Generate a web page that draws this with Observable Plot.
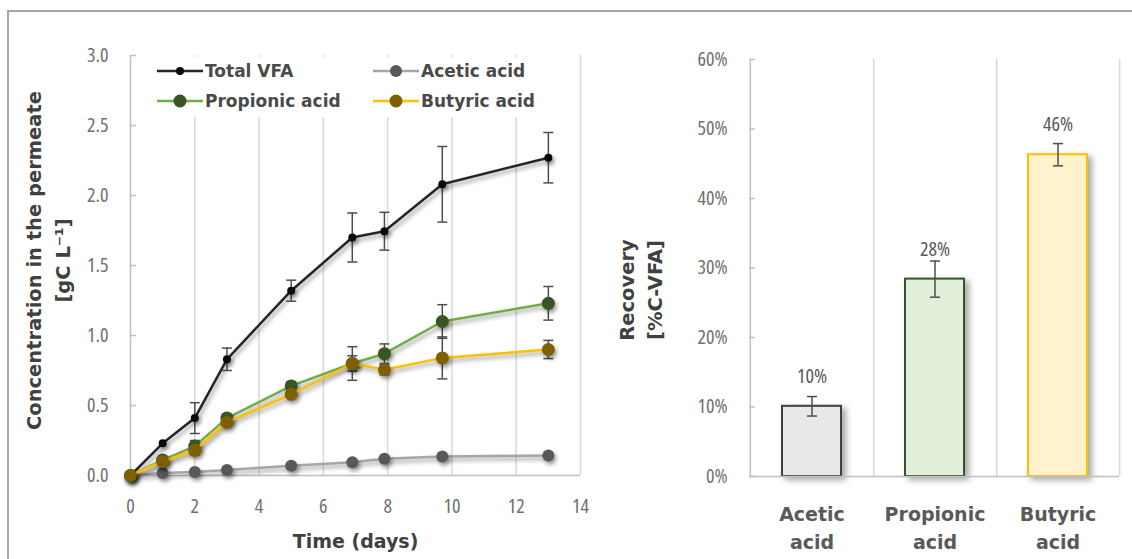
<!DOCTYPE html>
<html>
<head>
<meta charset="utf-8">
<script src="https://cdn.jsdelivr.net/npm/d3@7"></script>
<script src="https://cdn.jsdelivr.net/npm/@observablehq/plot@0.6"></script>
<style>
  body { margin: 0; background: #fff; }
  #wrap { position: relative; width: 1132px; height: 559px; overflow: hidden; background: #fff; }
  #frame { position: absolute; left: 7px; top: 10px; right: -10px; bottom: -10px;
           border-top: 2px solid #a8a8a8; border-left: 2px solid #a8a8a8; }
  #left { position: absolute; left: 0; top: 0; }
  #right { position: absolute; left: 600px; top: 0; }
  #legend { position: absolute; left: 150px; top: 57px; width: 398px; height: 60px; background: #fff; }
  .item { position: absolute; display: flex; align-items: center; height: 20px;
          font-family: "DejaVu Sans", sans-serif; font-weight: bold; font-size: 17px; color: #4a4a4a; white-space: nowrap; }
  .item svg { margin-right: 2px; overflow: visible; }
  .shadowed { filter: drop-shadow(2px 3px 2px rgba(0,0,0,0.4)); }
  .shadowedbar { filter: drop-shadow(4px 3px 3px rgba(0,0,0,0.35)); }
  .boldtext { font-stretch: normal; }
</style>
</head>
<body>
<div id="wrap">
  <div id="frame"></div>
  <div id="left"></div>
  <div id="right"></div>
  <div id="legend"></div>
</div>
<script>
// ---------- data: left chart ----------
const days = [0, 1, 2, 3, 5, 6.9, 7.9, 9.7, 13];
const totalVFA     = [0, 0.23, 0.41, 0.83, 1.32, 1.70, 1.745, 2.08, 2.27];
const totalVFAErr  = [0, 0, 0.11, 0.08, 0.075, 0.175, 0.135, 0.27, 0.18];
const acetic       = [0, 0.017, 0.025, 0.04, 0.07, 0.095, 0.12, 0.135, 0.143];
const aceticErr    = [0, 0, 0, 0, 0, 0, 0, 0, 0];
const propionic    = [0, 0.11, 0.21, 0.41, 0.64, 0.80, 0.87, 1.10, 1.23];
const propionicErr = [0, 0, 0.04, 0.03, 0.03, 0.055, 0.07, 0.12, 0.12];
const butyric      = [0, 0.10, 0.18, 0.38, 0.58, 0.80, 0.755, 0.84, 0.90];
const butyricErr   = [0, 0, 0.03, 0.02, 0.02, 0.12, 0.035, 0.15, 0.065];
const seriesNames = ["Total VFA", "Acetic acid", "Propionic acid", "Butyric acid"];
const seriesValues = [totalVFA, acetic, propionic, butyric];
const seriesErrors = [totalVFAErr, aceticErr, propionicErr, butyricErr];
const xTicks = [0, 2, 4, 6, 8, 10, 12, 14];
const yTicks = [0, 0.5, 1.0, 1.5, 2.0, 2.5, 3.0];

// ---------- data: right chart ----------
const recoveryCategories = ["Acetic acid", "Propionic acid", "Butyric acid"];
const recoveryValues = [10.1, 28.4, 46.3];
const recoveryErr = [1.4, 2.6, 1.6];
const recoveryTicks = [0, 10, 20, 30, 40, 50, 60];

// ---------- styles ----------
const lineColor = {"Total VFA": "#262626", "Acetic acid": "#a6a6a6", "Propionic acid": "#70ad47", "Butyric acid": "#ffc000"};
const dotColor  = {"Total VFA": "#0a0a0a", "Acetic acid": "#595959", "Propionic acid": "#375623", "Butyric acid": "#7f6000"};
const dotR      = {"Total VFA": 4, "Acetic acid": 6, "Propionic acid": 6.5, "Butyric acid": 6.5};
const barFill   = {"Acetic acid": "#e8e8e8", "Propionic acid": "#e2efda", "Butyric acid": "#fff2cc"};
const barStroke = {"Acetic acid": "#404040", "Propionic acid": "#375623", "Butyric acid": "#ffc000"};

const tickFont = '"Open Sans", "DejaVu Sans Condensed", sans-serif';
const boldFont = '"DejaVu Sans", sans-serif';
const axisGray = "#bfbfbf";
const gridGray = "#d9d9d9";
const errColor = "#4d4d4d";

const rows = [];
seriesNames.forEach((name, s) => {
  days.forEach((d, i) => rows.push({series: name, day: d, value: seriesValues[s][i], err: seriesErrors[s][i]}));
});
const errRows = rows.filter(r => r.err > 0);

const cap = {draw(ctx, size) { const w = Math.sqrt(size / Math.PI); ctx.moveTo(-w, 0); ctx.lineTo(w, 0); }};

const lineMarks = [];
for (const name of seriesNames) {
  const sub = rows.filter(r => r.series === name);
  lineMarks.push(Plot.line(sub, {x: "day", y: "value", stroke: lineColor[name], strokeWidth: 2.5}));
  const e = errRows.filter(r => r.series === name);
  lineMarks.push(Plot.ruleX(e, {x: "day", y1: r => r.value - r.err, y2: r => r.value + r.err, stroke: errColor, strokeWidth: 1.5}));
  lineMarks.push(Plot.dot(e, {x: "day", y: r => r.value - r.err, symbol: cap, r: 5, stroke: errColor, strokeWidth: 1.5}));
  lineMarks.push(Plot.dot(e, {x: "day", y: r => r.value + r.err, symbol: cap, r: 5, stroke: errColor, strokeWidth: 1.5}));
  lineMarks.push(Plot.dot(sub, {x: "day", y: "value", r: dotR[name], fill: dotColor[name], stroke: "none"}));
}

const tickStyle = {fontFamily: tickFont, fontSize: "20px", fontStretch: "75%", color: "#707070", background: "transparent", overflow: "visible"};

function fixBold(svg) {
  svg.querySelectorAll('g[aria-label="text"]').forEach(g => {
    if (g.getAttribute("font-weight") === "bold") g.classList.add("boldtext");
  });
}

const left = Plot.plot({
  width: 600, height: 559,
  marginLeft: 130, marginRight: 20, marginTop: 55, marginBottom: 84,
  x: {domain: [0, 14]},
  y: {domain: [0, 3]},
  style: tickStyle,
  marks: [
    Plot.gridX(xTicks.filter(d => d > 0), {stroke: gridGray, strokeOpacity: 1, strokeWidth: 1.5}),
    Plot.ruleX([0], {stroke: axisGray, strokeWidth: 1.5}),
    Plot.ruleY([0], {stroke: axisGray, strokeWidth: 1.5}),
    Plot.axisY({ticks: yTicks, tickSize: 6, insetLeft: 6, tickPadding: 22, tickFormat: d => d.toFixed(1), stroke: axisGray, strokeWidth: 1.5, label: null}),
    Plot.axisX({ticks: xTicks, tickSize: 0, tickPadding: 23, label: null}),
    ...lineMarks,
    Plot.text(["Time (days)"], {frameAnchor: "bottom", lineAnchor: "top", dy: 59, fontFamily: boldFont, fontWeight: "bold", fontSize: 19, fill: "#404040"}),
    Plot.text(["Concentration in the permeate\n[gC L\u207B\u00B9]"], {frameAnchor: "left", textAnchor: "middle", rotate: -90, dx: -84, dy: -5, lineHeight: 1.45, fontFamily: boldFont, fontWeight: "bold", fontSize: 19.5, fill: "#404040"})
  ]
});
document.getElementById("left").appendChild(left);
fixBold(left);
left.querySelectorAll('g[aria-label="line"]').forEach(g => g.classList.add("shadowed"));
left.querySelectorAll('g[aria-label="dot"]').forEach(g => { if (g.querySelector("circle")) g.classList.add("shadowed"); });

// legend
const legend = document.getElementById("legend");
const legendPos = [[7, 4], [223, 4], [7, 34], [223, 34]];
seriesNames.forEach((name, i) => {
  const it = document.createElement("div");
  it.className = "item";
  it.style.left = legendPos[i][0] + "px";
  it.style.top = legendPos[i][1] + "px";
  it.innerHTML = `<svg width="46" height="16"><line x1="0" x2="46" y1="8" y2="8" stroke="${lineColor[name]}" stroke-width="2.5"/><circle cx="23" cy="8" r="${dotR[name]}" fill="${dotColor[name]}"/></svg><span>${name}</span>`;
  legend.appendChild(it);
});

// right chart
const rw = 532, rml = 149, rmr = 13;
const step = (rw - rml - rmr) / recoveryCategories.length;
const bars = recoveryCategories.map((c, i) => ({cat: c, value: recoveryValues[i], err: recoveryErr[i]}));
const right = Plot.plot({
  width: rw, height: 559,
  marginLeft: rml, marginRight: rmr, marginTop: 59, marginBottom: 83,
  x: {domain: recoveryCategories, padding: 0, axis: null},
  y: {domain: [0, 60]},
  style: tickStyle,
  marks: [
    Plot.ruleX(recoveryCategories, {x: d => d, dx: step / 2, stroke: gridGray, strokeWidth: 1.5}),
    Plot.ruleX([recoveryCategories[0]], {x: d => d, dx: -step / 2, stroke: axisGray, strokeWidth: 1.5}),
    Plot.barY(bars, {x: "cat", y: "value", fill: d => barFill[d.cat], stroke: d => barStroke[d.cat], strokeWidth: 2, insetLeft: 32, insetRight: 32}),
    Plot.ruleY([0], {stroke: axisGray, strokeWidth: 1.5}),
    Plot.axisY({ticks: recoveryTicks, tickSize: 6, insetLeft: 6, tickPadding: 22, tickFormat: d => d + "%", stroke: axisGray, strokeWidth: 1.5, label: null}),
    Plot.ruleX(bars, {x: "cat", y1: d => d.value - d.err, y2: d => d.value + d.err, stroke: errColor, strokeWidth: 1.5}),
    Plot.dot(bars, {x: "cat", y: d => d.value - d.err, symbol: cap, r: 5, stroke: errColor, strokeWidth: 1.5}),
    Plot.dot(bars, {x: "cat", y: d => d.value + d.err, symbol: cap, r: 5, stroke: errColor, strokeWidth: 1.5}),
    Plot.text(bars, {x: "cat", y: "value", text: d => Math.round(d.value) + "%", dy: -30, fill: "#595959", fontSize: 20}),
    Plot.text(recoveryCategories, {x: d => d, frameAnchor: "bottom", lineAnchor: "top", dy: 25, lineHeight: 1.45, text: d => d.replace(" ", "\n"), fontFamily: boldFont, fontWeight: "bold", fontSize: 19, fill: "#595959"}),
    Plot.text(["Recovery\n[%C-VFA]"], {frameAnchor: "left", textAnchor: "middle", rotate: -90, dx: -110.5, dy: 22, lineHeight: 1.45, fontFamily: boldFont, fontWeight: "bold", fontSize: 19.5, fill: "#404040"})
  ]
});
document.getElementById("right").appendChild(right);
fixBold(right);
right.querySelectorAll('g[aria-label="bar"]').forEach(g => g.classList.add("shadowedbar"));
</script>
</body>
</html>
